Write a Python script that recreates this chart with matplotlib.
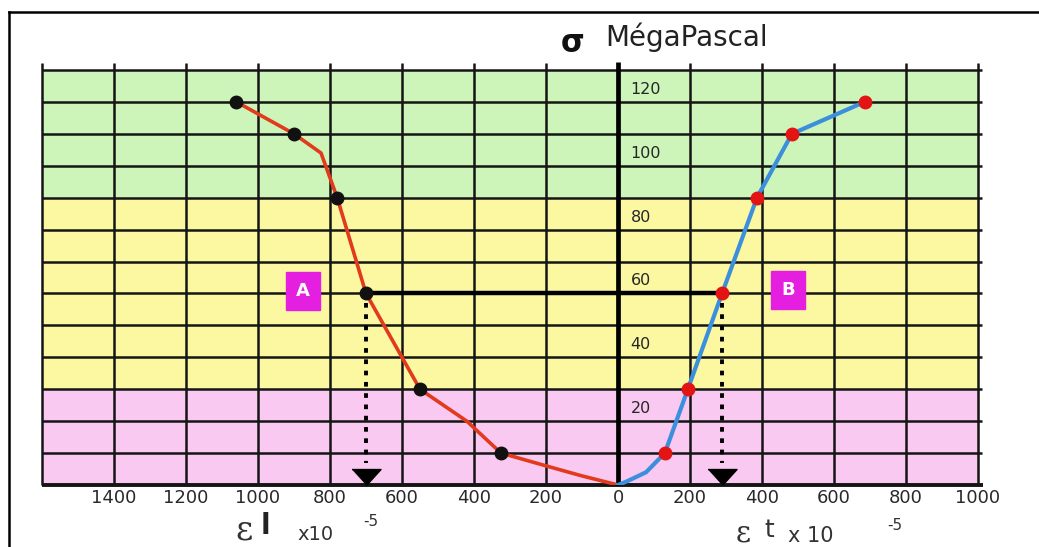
import numpy as np
import matplotlib
matplotlib.use("Agg")
import matplotlib.pyplot as plt
from matplotlib.lines import Line2D

# Longitudinal strain εl (x10^-5, drawn to the left of the stress axis) vs stress σ (MPa)
long_pts_strain = [1060, 900, 780, 700, 550, 325]
long_pts_stress = [120, 110, 90, 60, 30, 10]
long_line_strain = [1060, 900, 825, 780, 700, 550, 420, 325, 200, 105, 0]
long_line_stress = [120, 110, 104, 90, 60, 30, 20, 10, 6, 3, 0]

# Transverse strain εt (x10^-5, drawn to the right) vs stress σ (MPa)
trans_pts_strain = [685, 483, 386, 289, 194, 130]
trans_pts_stress = [120, 110, 90, 60, 30, 10]
trans_line_strain = [0, 22, 78, 130, 194, 289, 386, 483, 685]
trans_line_stress = [0, 1, 4, 10, 30, 60, 90, 110, 120]

# Axis ticks and labels
strain_ticks = [-1400, -1200, -1000, -800, -600, -400, -200, 0, 200, 400, 600, 800, 1000]
strain_labels = [str(abs(v)) for v in strain_ticks]
stress_labels = [20, 40, 60, 80, 100, 120]
grid_strain = list(range(-1600, 1001, 200))
grid_stress = list(range(10, 131, 10))

# Coloured stress zones (lower, upper, colour)
zone_bounds = [(0, 30), (30, 90), (90, 130)]
zone_colors = ["#f9c9f1", "#fcf8a2", "#cdf4b9"]

marked_stress = 60

W, H = 1039, 547
fig = plt.figure(figsize=(W / 100, H / 100), dpi=100)
fig.patch.set_facecolor("white")
ax = fig.add_axes([42 / W, 62 / H, 936 / W, 415 / H])
ax.set_xlim(-1600, 1000)
ax.set_ylim(0, 130)
for s in ax.spines.values():
    s.set_visible(False)
ax.set_facecolor("white")

# zones
for (lo, hi), c in zip(zone_bounds, zone_colors):
    ax.axhspan(lo, hi, color=c, lw=0, zorder=0)

# grid
gc = "#151515"
ax.vlines(grid_strain, 0, 132.2, colors=gc, lw=1.8, clip_on=False, zorder=1)
ax.hlines(grid_stress, -1600, 1012, colors=gc, lw=1.8, clip_on=False, zorder=1)
ax.hlines(0, -1600, 1015, colors=gc, lw=2.8, clip_on=False, zorder=2)
ax.vlines(0, 0, 132.6, colors="black", lw=3.4, clip_on=False, zorder=2)

# x tick labels
ax.set_xticks(strain_ticks)
ax.set_xticklabels(strain_labels, fontsize=13, color="#2a2a2a",
                   family="DejaVu Sans")
ax.tick_params(axis="x", length=0, pad=3)
ax.set_yticks([])

# stress labels next to the vertical axis
for v in stress_labels:
    ax.annotate(str(v), xy=(0, v), xytext=(9, 9), textcoords="offset points",
                ha="left", va="center", fontsize=11.5, color="#262626",
                family="DejaVu Sans", zorder=6)

# curves
lx = -np.array(long_line_strain)
ax.plot(lx, long_line_stress, color="#e23a1c", lw=2.6, zorder=4,
        solid_joinstyle="round")
ax.plot(-np.array(long_pts_strain), long_pts_stress, "o", color="#111111",
        ms=9, zorder=5)
ax.plot(trans_line_strain, trans_line_stress, color="#3b8fdc", lw=3, zorder=4,
        solid_joinstyle="round")
ax.plot(trans_pts_strain, trans_pts_stress, "o", color="#e21414",
        ms=9, zorder=5)

# reading at the marked stress level
ia = long_pts_stress.index(marked_stress)
ib = trans_pts_stress.index(marked_stress)
xa = -long_pts_strain[ia]
xb = trans_pts_strain[ib]
ax.plot([xa, xb], [marked_stress, marked_stress], color="black", lw=3.2,
        zorder=3, solid_capstyle="butt")

head = [(-1, 1.1), (1, 1.1), (0, 0)]
for x in (xa, xb):
    ax.plot([x, x], [marked_stress - 3, 7], color="black", lw=2.8,
            linestyle=(0, (1.2, 1.7)), zorder=6)
    ax.plot([x], [0], marker=head, color="black", ms=23, zorder=7,
            clip_on=False)

# point labels
box = dict(boxstyle="square,pad=0.55", fc="#e51fe0", ec="#e51fe0")
ax.text(-875, 60.8, "A", ha="center", va="center", fontsize=13,
        fontweight="bold", color="white", bbox=box, zorder=8)
ax.text(472, 61, "B", ha="center", va="center", fontsize=13,
        fontweight="bold", color="white", bbox=box, zorder=8)


def fx(px):
    return px / W


def fy(py):
    return 1 - py / H


# axis titles
fig.text(fx(573), fy(43), "σ", ha="center", va="center", fontsize=22,
         fontweight="bold", color="#111111")
fig.text(fx(605), fy(37), "MégaPascal", ha="left", va="center", fontsize=20,
         color="#222222")

fig.text(fx(244), fy(531), "ε", ha="center", va="center", fontsize=24,
         family="DejaVu Serif", color="#333333")
fig.text(fx(265), fy(526), "l", ha="center", va="center", fontsize=20,
         fontweight="bold", color="#222222")
fig.text(fx(315), fy(535), "x10", ha="center", va="center", fontsize=14,
         color="#333333")
fig.text(fx(371), fy(522), "-5", ha="center", va="center", fontsize=11,
         color="#333333")

fig.text(fx(743), fy(533), "ε", ha="center", va="center", fontsize=21,
         family="DejaVu Serif", color="#333333")
fig.text(fx(769), fy(530), "t", ha="center", va="center", fontsize=18,
         color="#333333")
fig.text(fx(811), fy(536), "x 10", ha="center", va="center", fontsize=15,
         color="#333333")
fig.text(fx(895), fy(526), "-5", ha="center", va="center", fontsize=11,
         color="#333333")

# page frame
fig.add_artist(Line2D([fx(9), fx(9)], [0, fy(12)], color="black", lw=1.8,
                      transform=fig.transFigure))
fig.add_artist(Line2D([fx(9), 1], [fy(12), fy(12)], color="black", lw=1.8,
                      transform=fig.transFigure))

fig.savefig("out.png", dpi=100)
